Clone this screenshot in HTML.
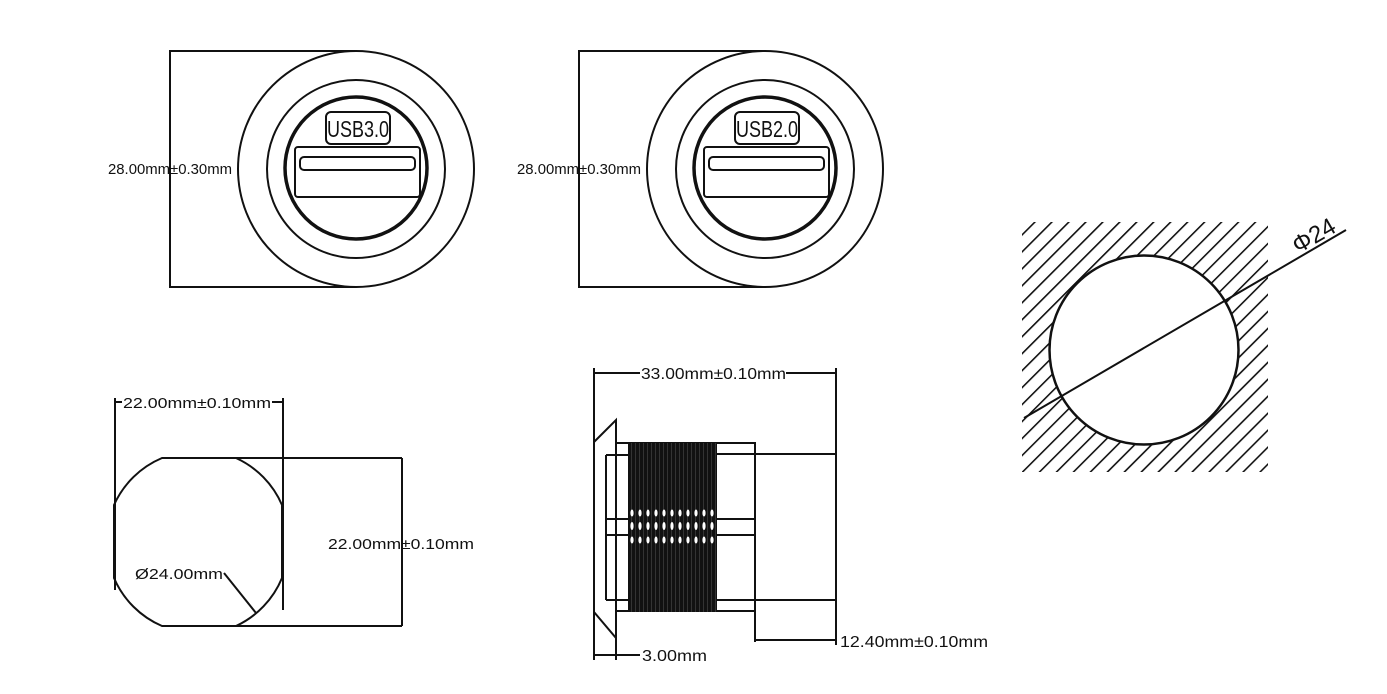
<!DOCTYPE html>
<html><head><meta charset="utf-8"><style>
html,body{margin:0;padding:0;background:#fff;}
svg{display:block;}
text{font-family:"Liberation Sans",Arial,sans-serif;fill:#111;}
</style></head><body>
<svg width="1387" height="694" viewBox="0 0 1387 694" xmlns="http://www.w3.org/2000/svg">
<defs>
<pattern id="hatch" patternUnits="userSpaceOnUse" width="12" height="12" patternTransform="rotate(45)">
<line x1="0" y1="0" x2="0" y2="12" stroke="#111" stroke-width="3.2"/>
</pattern>
<pattern id="thread" patternUnits="userSpaceOnUse" width="4" height="200">
<line x1="1.5" y1="0" x2="1.5" y2="200" stroke="#111" stroke-width="3"/>
</pattern>
<g id="front">
<path d="M356 51 H170 V287 H356" fill="none" stroke="#111" stroke-width="2"/>
<circle cx="356" cy="169" r="118" fill="#fff" stroke="#111" stroke-width="2"/>
<circle cx="356" cy="169" r="89" fill="none" stroke="#111" stroke-width="2"/>
<circle cx="356" cy="168" r="71" fill="none" stroke="#111" stroke-width="3.5"/>
<rect x="326" y="112" width="64" height="32" rx="5" fill="none" stroke="#111" stroke-width="2"/>
<rect x="295" y="147" width="125" height="50" rx="3" fill="none" stroke="#111" stroke-width="2"/>
<rect x="300" y="157" width="115" height="13" rx="4" fill="none" stroke="#111" stroke-width="2"/>
</g>
</defs>
<use href="#front"/>
<text x="108" y="174" font-size="14.5" textLength="124" lengthAdjust="spacingAndGlyphs">28.00mm±0.30mm</text>
<text x="358" y="137" font-size="23" text-anchor="middle" textLength="62" lengthAdjust="spacingAndGlyphs">USB3.0</text>
<use href="#front" transform="translate(409,0)"/>
<text x="517" y="174" font-size="14.5" textLength="124" lengthAdjust="spacingAndGlyphs">28.00mm±0.30mm</text>
<text x="767" y="137" font-size="23" text-anchor="middle" textLength="62" lengthAdjust="spacingAndGlyphs">USB2.0</text>

<g stroke="#111" stroke-width="2" fill="none">
<line x1="115" y1="398" x2="115" y2="590"/>
<line x1="283" y1="398" x2="283" y2="610"/>
<line x1="115" y1="402" x2="122" y2="402"/>
<line x1="272" y1="402" x2="283" y2="402"/>
<path d="M162 458 H236 A91.5 91.5 0 0 1 282 505 V578 A91.5 91.5 0 0 1 236 626 H162 A91.5 91.5 0 0 1 114 578 V505 A91.5 91.5 0 0 1 162 458 Z"/>
<line x1="236" y1="458" x2="402" y2="458"/>
<line x1="236" y1="626" x2="402" y2="626"/>
<line x1="402" y1="458" x2="402" y2="626"/>
<line x1="224" y1="573" x2="256" y2="613"/>
</g>
<text x="123" y="408" font-size="15" textLength="148" lengthAdjust="spacingAndGlyphs">22.00mm±0.10mm</text>
<text x="328" y="549" font-size="15" textLength="146" lengthAdjust="spacingAndGlyphs">22.00mm±0.10mm</text>
<text x="135" y="579" font-size="15" textLength="88" lengthAdjust="spacingAndGlyphs">Ø24.00mm</text>

<g stroke="#111" stroke-width="2" fill="none">
<line x1="594" y1="373" x2="640" y2="373"/>
<line x1="786" y1="373" x2="836" y2="373"/>
<line x1="594" y1="368" x2="594" y2="660"/>
<line x1="836" y1="368" x2="836" y2="645"/>
<path d="M594 442 L616 420 V638 L594 612"/>
<line x1="616" y1="420" x2="616" y2="660"/>
<rect x="616" y="443" width="139" height="168"/>
<line x1="716" y1="454" x2="836" y2="454"/>
<line x1="716" y1="600" x2="836" y2="600"/>
<line x1="716" y1="519" x2="755" y2="519"/>
<line x1="716" y1="535" x2="755" y2="535"/>
<line x1="755" y1="611" x2="755" y2="642"/>
<line x1="755" y1="640" x2="836" y2="640"/>
<line x1="606" y1="455" x2="628" y2="455"/>
<line x1="606" y1="600" x2="628" y2="600"/>
<line x1="606" y1="455" x2="606" y2="600"/>
<line x1="606" y1="519" x2="628" y2="519"/>
<line x1="606" y1="535" x2="628" y2="535"/>
<line x1="594" y1="655" x2="640" y2="655"/>
</g>
<rect x="628" y="443" width="89" height="169" fill="#333"/>
<rect x="628" y="443" width="89" height="169" fill="url(#thread)"/>
<g fill="#fff">
<ellipse cx="632" cy="513" rx="1.6" ry="3.5"/><ellipse cx="640" cy="513" rx="1.6" ry="3.5"/><ellipse cx="648" cy="513" rx="1.6" ry="3.5"/><ellipse cx="656" cy="513" rx="1.6" ry="3.5"/><ellipse cx="664" cy="513" rx="1.6" ry="3.5"/><ellipse cx="672" cy="513" rx="1.6" ry="3.5"/><ellipse cx="680" cy="513" rx="1.6" ry="3.5"/><ellipse cx="688" cy="513" rx="1.6" ry="3.5"/><ellipse cx="696" cy="513" rx="1.6" ry="3.5"/><ellipse cx="704" cy="513" rx="1.6" ry="3.5"/><ellipse cx="712" cy="513" rx="1.6" ry="3.5"/>
<ellipse cx="632" cy="526" rx="1.6" ry="4"/><ellipse cx="640" cy="526" rx="1.6" ry="4"/><ellipse cx="648" cy="526" rx="1.6" ry="4"/><ellipse cx="656" cy="526" rx="1.6" ry="4"/><ellipse cx="664" cy="526" rx="1.6" ry="4"/><ellipse cx="672" cy="526" rx="1.6" ry="4"/><ellipse cx="680" cy="526" rx="1.6" ry="4"/><ellipse cx="688" cy="526" rx="1.6" ry="4"/><ellipse cx="696" cy="526" rx="1.6" ry="4"/><ellipse cx="704" cy="526" rx="1.6" ry="4"/><ellipse cx="712" cy="526" rx="1.6" ry="4"/>
<ellipse cx="632" cy="540" rx="1.6" ry="3.5"/><ellipse cx="640" cy="540" rx="1.6" ry="3.5"/><ellipse cx="648" cy="540" rx="1.6" ry="3.5"/><ellipse cx="656" cy="540" rx="1.6" ry="3.5"/><ellipse cx="664" cy="540" rx="1.6" ry="3.5"/><ellipse cx="672" cy="540" rx="1.6" ry="3.5"/><ellipse cx="680" cy="540" rx="1.6" ry="3.5"/><ellipse cx="688" cy="540" rx="1.6" ry="3.5"/><ellipse cx="696" cy="540" rx="1.6" ry="3.5"/><ellipse cx="704" cy="540" rx="1.6" ry="3.5"/><ellipse cx="712" cy="540" rx="1.6" ry="3.5"/>
</g>
<text x="641" y="379" font-size="15.5" textLength="145" lengthAdjust="spacingAndGlyphs">33.00mm±0.10mm</text>
<text x="840" y="647" font-size="15.5" textLength="148" lengthAdjust="spacingAndGlyphs">12.40mm±0.10mm</text>
<text x="642" y="661" font-size="15.5" textLength="65" lengthAdjust="spacingAndGlyphs">3.00mm</text>

<rect x="1022" y="222" width="246" height="250" fill="url(#hatch)"/>
<circle cx="1144" cy="350" r="94.5" fill="#fff" stroke="#111" stroke-width="2.5"/>
<line x1="1024" y1="418" x2="1346" y2="230" stroke="#111" stroke-width="2"/>
<text x="0" y="0" font-size="24" transform="translate(1298,254) rotate(-30)">Φ24</text>
</svg>
</body></html>
